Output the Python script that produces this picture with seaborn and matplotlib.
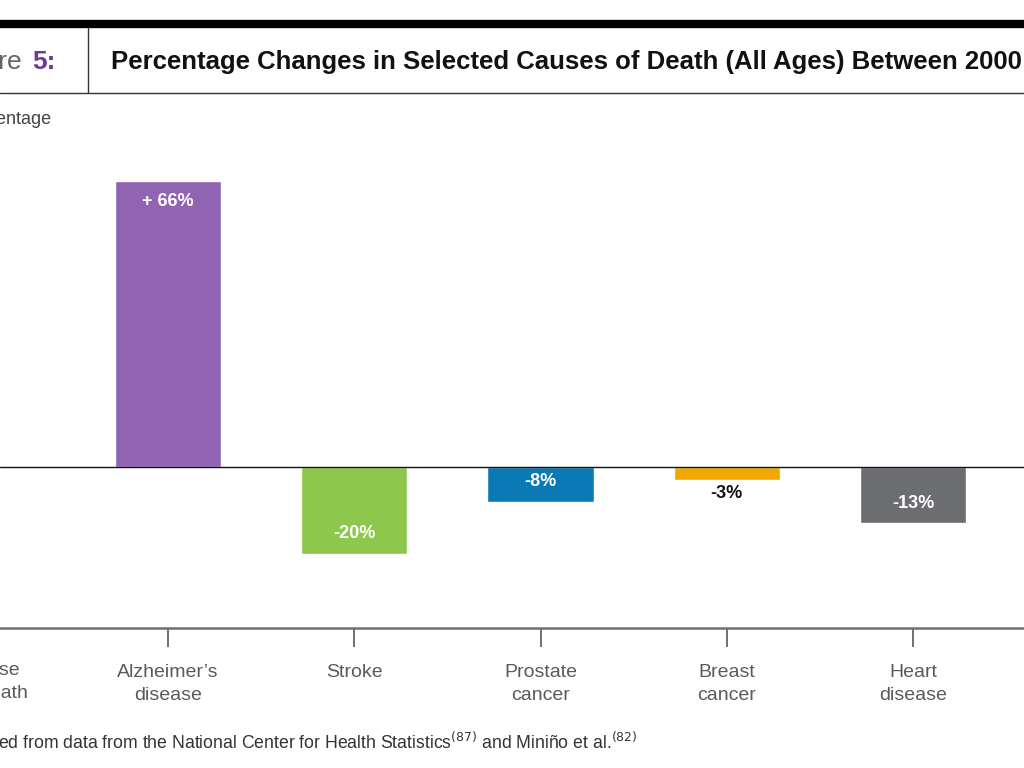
import matplotlib
matplotlib.use("Agg")
import matplotlib.pyplot as plt
from matplotlib.lines import Line2D
import seaborn as sns
import pandas as pd

categories = ["Alzheimer\u2019s\ndisease", "Stroke", "Prostate\ncancer", "Breast\ncancer", "Heart\ndisease"]
values = [66, -20, -8, -3, -13]
value_labels = ["+ 66%", "-20%", "-8%", "-3%", "-13%"]
colors = ["#9163b3", "#8dc74b", "#0b79b5", "#f3a800", "#6c6d70"]
axis_label = "Cause\nof Death"

sns.set_theme(style="white")
plt.rcParams['font.family'] = ['Liberation Sans', 'DejaVu Sans']

W, H = 1024, 768
fig = plt.figure(figsize=(W / 100, H / 100), dpi=100)

def fx(px):
    return px / W

def fy(py):
    return 1 - py / H

ax_bottom_px, ax_top_px = 628, 100
ax = fig.add_axes([0, fy(ax_bottom_px), 1, (ax_bottom_px - ax_top_px) / H])

df = pd.DataFrame({"cause": categories, "pct": values})
sns.barplot(data=df, x="cause", y="pct", hue="cause", palette=colors,
            width=0.57, saturation=1, legend=False, ax=ax)

ax.axhline(0, color="#111111", lw=1.0, zorder=3)
for s in ["left", "right", "top"]:
    ax.spines[s].set_visible(False)
ax.spines["bottom"].set_color("#6f6f6f")
ax.spines["bottom"].set_linewidth(1.8)
ax.set_yticks([])
ax.set_xlabel("")
ax.set_ylabel("")

ax.set_xticks(range(len(categories)))
ax.set_xticklabels(categories, fontsize=14, color="#5a5a5a", linespacing=1.42)
ax.tick_params(axis="x", direction="out", length=14, width=1.4, color="#6f6f6f", pad=12, bottom=True)

pxper = 4.33
zero_px = 467
ax.set_ylim(-(ax_bottom_px - zero_px) / pxper, (zero_px - ax_top_px) / pxper)
ax.set_xlim(-168 / 186.25, 4 + (W - 913) / 186.25)

off = 20 / pxper
for i, (v, lab) in enumerate(zip(values, value_labels)):
    if abs(v) < 5:
        ax.text(i, v - 14 / pxper, lab, ha="center", va="center", fontsize=13,
                fontweight="bold", color="#111111")
    else:
        y = v - off if v > 0 else v + off
        ax.text(i, y, lab, ha="center", va="center", fontsize=13,
                fontweight="bold", color="white")

# x-axis label at left (cropped like reference)
fig.text(fx(-9), fy(682), axis_label, ha="center", va="center", fontsize=14,
         color="#5a5a5a", linespacing=1.42)

# header
fig.add_artist(Line2D([0, 1], [fy(24), fy(24)], color="black", lw=6, transform=fig.transFigure))
fig.add_artist(Line2D([0, 1], [fy(93), fy(93)], color="#333333", lw=1.0, transform=fig.transFigure))
fig.add_artist(Line2D([fx(88), fx(88)], [fy(28), fy(93)], color="#333333", lw=1.0, transform=fig.transFigure))

fig.text(fx(56), fy(62), "5:", ha="right", va="center", fontsize=19, fontweight="bold", color="#6b3a96")
fig.text(fx(22), fy(62), "Figure", ha="right", va="center", fontsize=19, color="#666666")
fig.text(fx(111), fy(62), "Percentage Changes in Selected Causes of Death (All Ages) Between 2000",
         ha="left", va="center", fontsize=18.5, fontweight="bold", color="#111111")

fig.text(fx(52), fy(120), "Percentage", ha="right", va="center", fontsize=13, color="#444444")

fig.text(fx(-45), fy(742),
         "Created from data from the National Center for Health Statistics$^{(87)}$ and Mini\u00f1o et al.$^{(82)}$",
         ha="left", va="center", fontsize=12.7, color="#333333")

fig.savefig("out.png", dpi=100)
